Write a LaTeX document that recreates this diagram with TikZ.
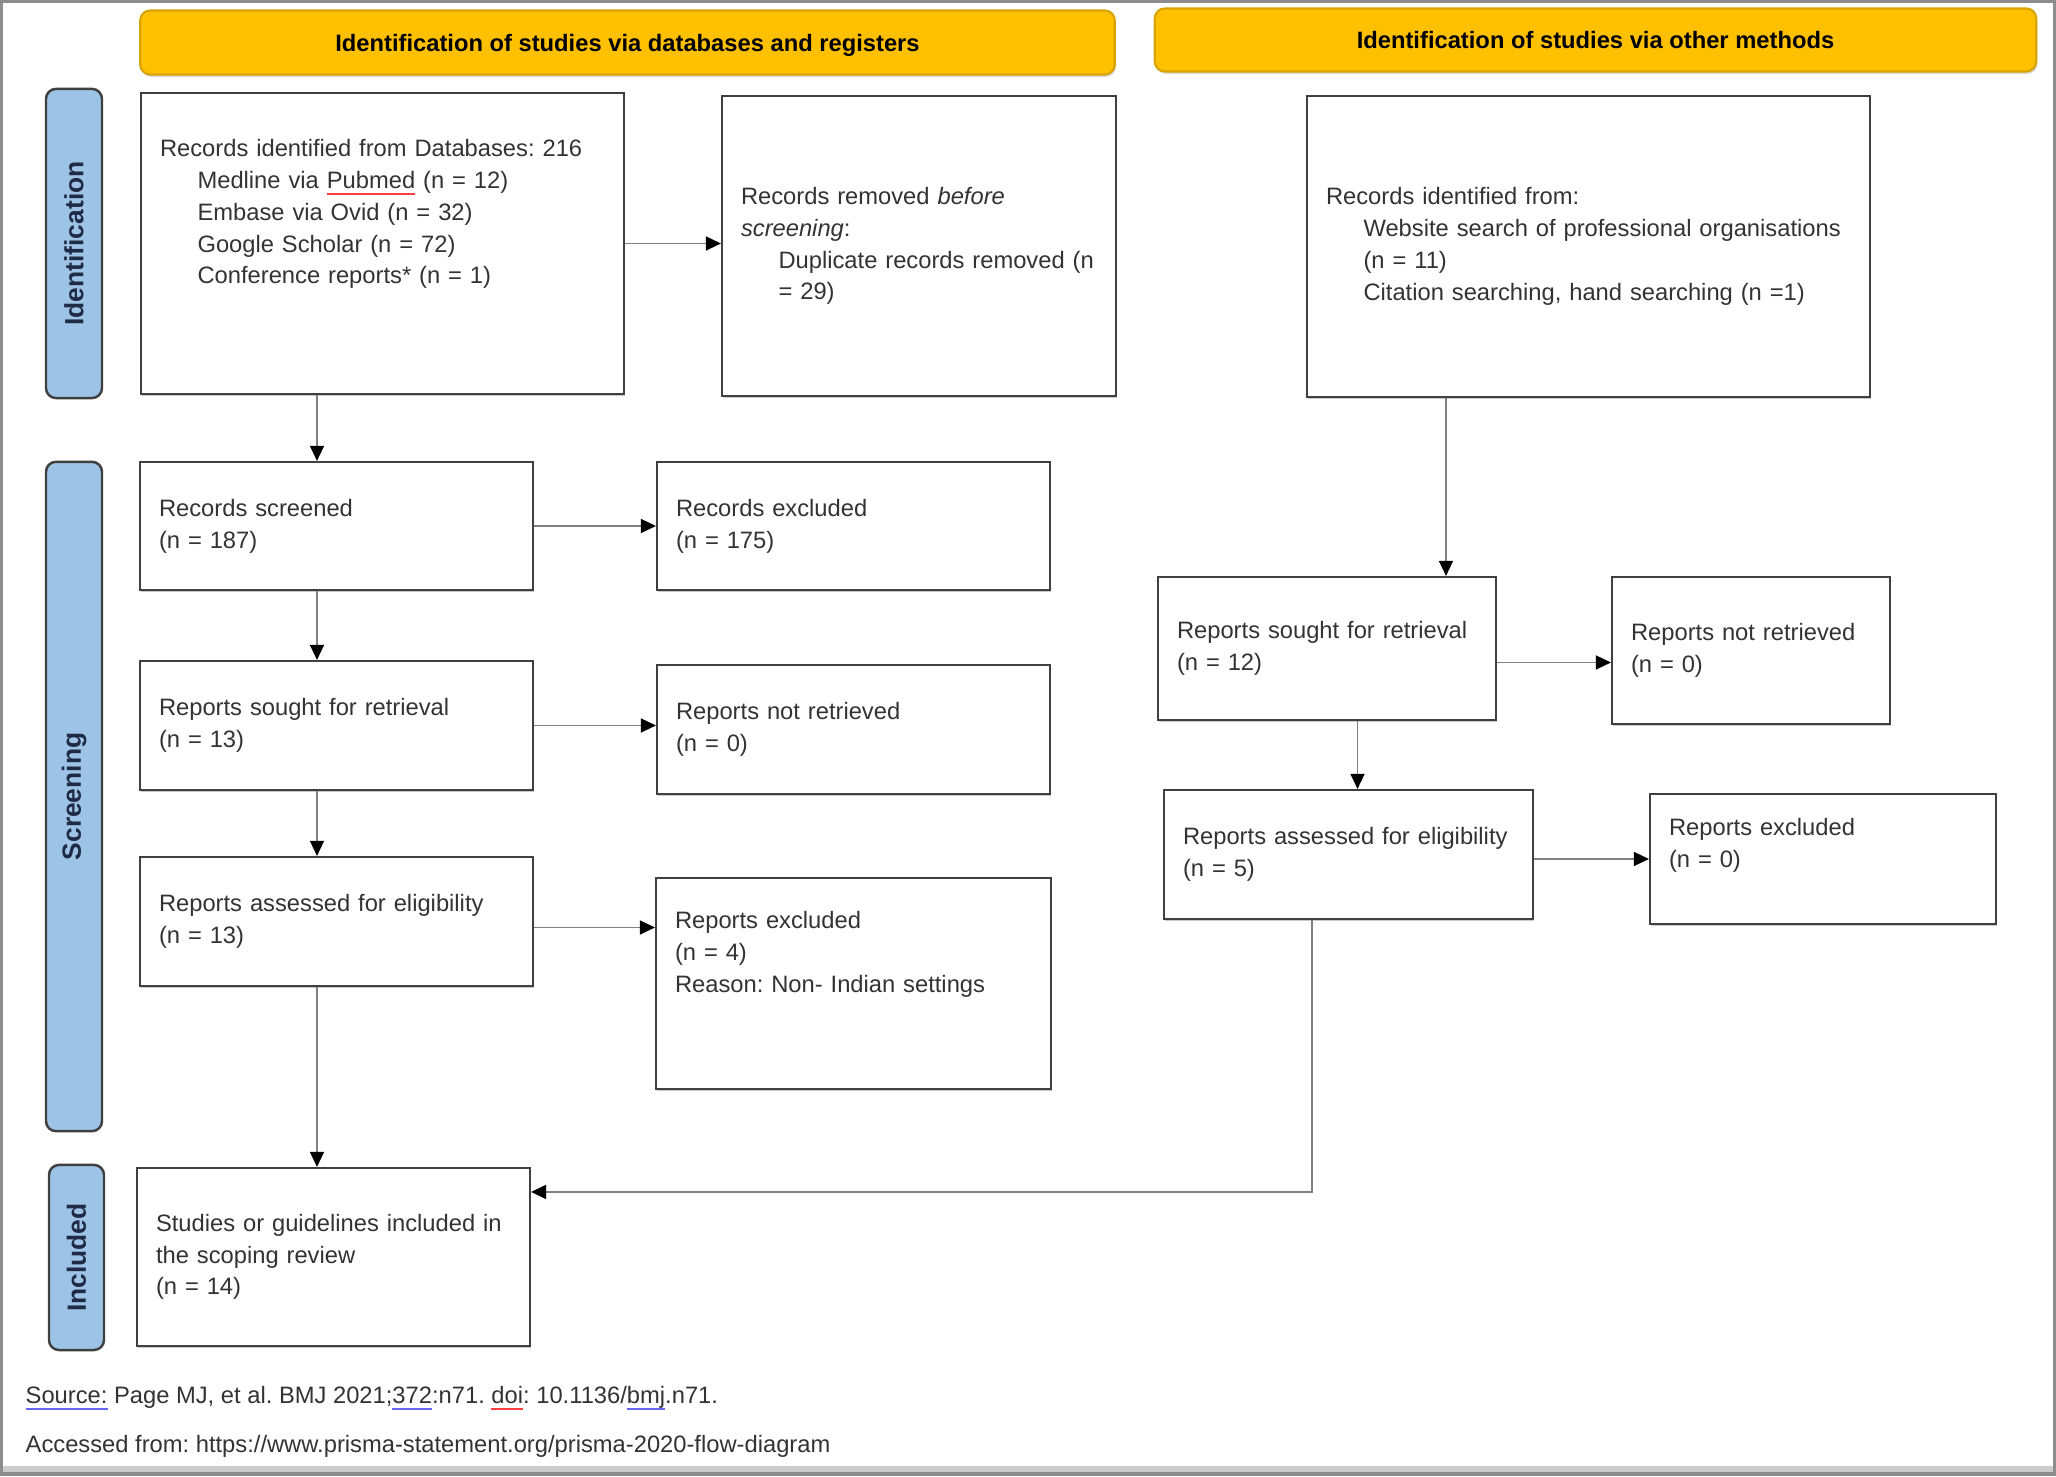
\documentclass[tikz,border=0pt]{standalone}
\usepackage{fontspec}
\setmainfont{Liberation Sans}
\usetikzlibrary{arrows.meta,shadows}
\definecolor{headgold}{HTML}{FFC000}
\definecolor{headedge}{HTML}{D9A300}
\definecolor{phaseblue}{HTML}{9DC3E6}
\definecolor{phasetext}{HTML}{1F2A44}
\frenchspacing
\newcommand{\ind}{\hspace*{0.375cm}}
\newlength{\spellwd}
\newcommand{\spellmark}[2]{\settowidth{\spellwd}{#2}\makebox[0pt][l]{\textcolor{#1}{\rule[-1.9pt]{\spellwd}{0.55pt}}}#2}
\tikzset{
  boxwh/.style 2 args={minimum width=#1*0.01cm, minimum height=#2*0.01cm, text width=#1*0.01cm-0.38cm},
  recbox/.style={draw=black!75, line width=0.6pt, fill=white, text=black!80, align=left,
    inner xsep=0.19cm, inner ysep=0pt, font=\fontsize{6.75pt}{9.05pt}\selectfont,
    drop shadow={shadow xshift=0.3pt, shadow yshift=-0.7pt, opacity=0.35, fill=black!60}},
  headbar/.style={draw=headedge, line width=0.6pt, fill=headgold, rounded corners=0.1cm,
    font=\fontsize{6.75pt}{9.05pt}\selectfont\bfseries, inner sep=0pt, text depth=0pt,
    drop shadow={shadow xshift=0.3pt, shadow yshift=-0.7pt, opacity=0.3, fill=black!50}},
  phasebar/.style={rotate=90, draw=black!75, line width=0.7pt, fill=phaseblue, rounded corners=0.1cm,
    text=phasetext, font=\fontsize{7.5pt}{9pt}\selectfont\bfseries, inner sep=0pt},
  flowline/.style={draw=black!50, line width=0.45pt, -{Triangle[length=4.3pt,width=4pt,color=black]}},
  footnote/.style={text=black!80, font=\fontsize{6.75pt}{9.05pt}\selectfont, inner sep=0pt},
}

\begin{document}
\begin{tikzpicture}[x=0.01cm, y=-0.01cm]
  \useasboundingbox (0,0) rectangle (2056,1477);
  \fill[white] (0,0) rectangle (2056,1477);
  \fill[black!20] (1.5,1466) rectangle (2054.5,1474);
  \draw[black!45, line width=1pt] (1.5,1.5) rectangle (2054.5,1474);

  % headers
  \node[headbar, minimum width=9.74cm, minimum height=0.64cm] (dbhead) at (627.5,42.5) {Identification of studies via databases and registers};
  \node[headbar, minimum width=8.81cm, minimum height=0.63cm] (othhead) at (1595.5,40) {Identification of studies via other methods};

  % phases
  \node[phasebar, minimum width=3.09cm, minimum height=0.56cm] (idbar) at (74,243.5) {Identification};
  \node[phasebar, minimum width=6.69cm, minimum height=0.56cm] (scrbar) at (74,796.5) {Screening};
  \node[phasebar, minimum width=1.85cm, minimum height=0.55cm] (incbar) at (76.5,1257.5) {Included};

  % databases and registers
  \node[recbox, boxwh={483}{301}] (dbrec) at (382.5,243.5) {Records identified from Databases: 216\\
    \ind Medline via \spellmark{red!75}{Pubmed} (n = 12)\\
    \ind Embase via Ovid (n = 32)\\
    \ind Google Scholar (n = 72)\\
    \ind Conference reports* (n = 1)\\ ~\\ ~};
  \node[recbox, boxwh={394}{300}] (removed) at (919,246) {Records removed \textit{before}\\
    \textit{screening}:\\
    \ind Duplicate records removed (n\\
    \ind = 29)};
  \node[recbox, boxwh={393}{128}] (screened) at (336.5,526) {Records screened\\(n = 187)};
  \node[recbox, boxwh={393}{128}] (excluded) at (853.5,526) {Records excluded\\(n = 175)};
  \node[recbox, boxwh={393}{129}] (sought) at (336.5,725.5) {Reports sought for retrieval\\(n = 13)};
  \node[recbox, boxwh={393}{129}] (notretr) at (853.5,729.5) {Reports not retrieved\\(n = 0)};
  \node[recbox, boxwh={393}{129}] (assessed) at (336.5,921.5) {Reports assessed for eligibility\\(n = 13)};
  \node[recbox, boxwh={395}{211}] (repexcl) at (853.5,983.5) {Reports excluded\\(n = 4)\\Reason: Non- Indian settings\\ ~\\ ~};
  \node[recbox, boxwh={393}{178}] (included) at (333.5,1257) {Studies or guidelines included in\\the scoping review\\(n = 14)};

  % other methods
  \node[recbox, boxwh={563}{301}] (othrec) at (1588.5,246.5) {Records identified from:\\
    \ind Website search of professional organisations\\
    \ind (n = 11)\\
    \ind Citation searching, hand searching (n =1)};
  \node[recbox, boxwh={338}{143}] (othsought) at (1327,648.5) {Reports sought for retrieval\\(n = 12)};
  \node[recbox, boxwh={278}{147}] (othnotretr) at (1751,650.5) {Reports not retrieved\\(n = 0)};
  \node[recbox, boxwh={369}{129}] (othassessed) at (1348.5,854.5) {Reports assessed for eligibility\\(n = 5)};
  \node[recbox, boxwh={346}{130}] (othexcl) at (1823,859) {Reports excluded\\(n = 0)\\ ~};

  % connectors
  \coordinate (leftcol) at (317,0);
  \coordinate (rightcol) at (1446,0);
  \draw[flowline] (dbrec.south -| leftcol) -- (screened.north -| leftcol);
  \draw[flowline] (screened.south -| leftcol) -- (sought.north -| leftcol);
  \draw[flowline] (sought.south -| leftcol) -- (assessed.north -| leftcol);
  \draw[flowline] (assessed.south -| leftcol) -- (included.north -| leftcol);
  \draw[flowline] (dbrec.east) -- (dbrec.east -| removed.west);
  \draw[flowline] (screened.east) -- (excluded.west);
  \draw[flowline] (sought.east) -- (sought.east -| notretr.west);
  \draw[flowline] ([yshift=-0.06cm]assessed.east) -- ([yshift=-0.06cm]assessed.east -| repexcl.west);
  \draw[flowline] (othrec.south -| rightcol) -- (othsought.north -| rightcol);
  \draw[flowline] ([yshift=-0.14cm]othsought.east) -- ([yshift=-0.14cm]othsought.east -| othnotretr.west);
  \draw[flowline] ([xshift=0.09cm]othsought.south -| othassessed.north) -- ([xshift=0.09cm]othassessed.north);
  \draw[flowline] (othassessed.east |- othexcl.west) -- (othexcl.west);
  \draw[flowline] ([xshift=-0.365cm]othassessed.south) |- ([yshift=-0.25cm]included.north east);

  % source
  \node[footnote, anchor=west] (src) at (25,1398) {\spellmark{blue!60}{Source:} Page MJ, et al. BMJ 2021;\spellmark{blue!60}{372}:n71. \spellmark{red!75}{doi}: 10.1136/\spellmark{blue!60}{bmj}.n71.};
  \node[footnote, anchor=west] (acc) at (25,1446.7) {Accessed from: https://www.prisma-statement.org/prisma-2020-flow-diagram};
\end{tikzpicture}
\end{document}
